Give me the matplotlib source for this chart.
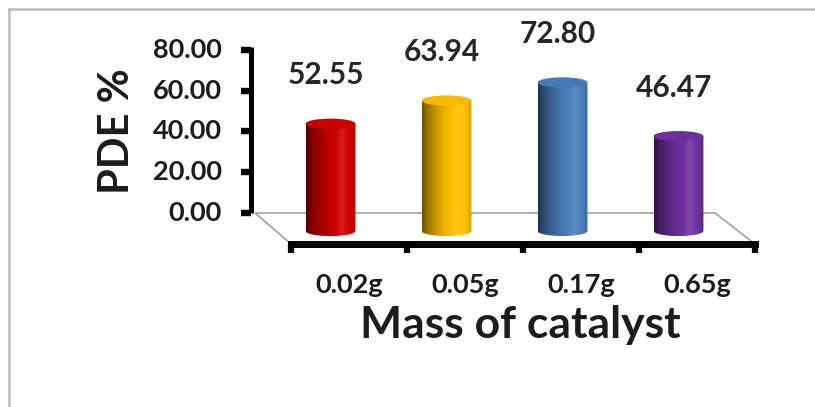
import numpy as np
import matplotlib.pyplot as plt
from matplotlib.patches import Polygon, Ellipse, PathPatch
from matplotlib.path import Path
from matplotlib.colors import to_rgb
from matplotlib.lines import Line2D

# PDE % for each catalyst mass
masses = ['0.02g', '0.05g', '0.17g', '0.65g']
pde = [52.55, 63.94, 72.80, 46.47]
bar_colors = ['#d00000', '#ffc000', '#4a7ebb', '#7030a0']
yticks = [0, 20, 40, 60, 80]

plt.rcParams['font.family'] = ['Lato', 'DejaVu Sans']
ink = '#1c1c1c'

fig = plt.figure(figsize=(8.15, 4.07), dpi=100)
ax = fig.add_axes([0, 0, 1, 1])
ax.set_xlim(-3.009, 4.017)
ax.set_ylim(-95.1, 104.4)
ax.axis('off')

# ---- floor of the 3d plot area ----
depth = -15.2      # front edge of the floor
base = -8.8        # where the cylinders stand
floor = Polygon([(-0.81, 0), (3.155, 0), (3.5, depth), (-0.5, depth)], closed=True,
                facecolor='white', edgecolor='#9a9a9a', lw=1.1, zorder=1)
ax.add_patch(floor)


def shade(color, n=200):
    c = np.array(to_rgb(color))
    t = np.linspace(0, 1, n)
    k = np.interp(t, [0, 0.12, 0.45, 0.72, 0.9, 1.0], [0.42, 0.62, 0.93, 1.06, 0.98, 0.8])
    rgb = np.where(k[:, None] <= 1, c[None, :] * k[:, None],
                   c[None, :] + (1 - c[None, :]) * (k[:, None] - 1) * 2)
    return np.clip(rgb, 0, 1)[None, :, :]


# ---- cylinders ----
w = 0.215   # half width
eh = 2.5    # half height of the end ellipses
for i, (v, col) in enumerate(zip(pde, bar_colors)):
    cx = i - 0.16
    top = base + v
    th = np.linspace(np.pi, 2 * np.pi, 40)
    verts = [(cx - w, top), (cx - w, base)]
    verts += list(zip(cx + w * np.cos(th), base + eh * np.sin(th)))
    verts += [(cx + w, top), (cx - w, top)]
    codes = [Path.MOVETO] + [Path.LINETO] * (len(verts) - 2) + [Path.CLOSEPOLY]
    clip = PathPatch(Path(verts, codes), facecolor='none', edgecolor='none')
    ax.add_patch(clip)
    im = ax.imshow(shade(col), extent=[cx - w, cx + w, base - eh, top],
                   aspect='auto', interpolation='bicubic', zorder=3)
    im.set_clip_path(clip)
    c = np.array(to_rgb(col))
    ax.add_patch(Ellipse((cx, top), 2 * w, 2 * eh, facecolor=c * 0.97,
                         edgecolor='none', zorder=4))
    ax.text(cx - 0.04, v + 15, f'{v:.2f}', ha='center', va='center',
            fontsize=21.5, fontweight='bold', color='#262626', zorder=5)

# ---- value axis ----
ax.plot([-0.845, -0.845], [0, 81.5], color='black', lw=3.6, solid_capstyle='butt', zorder=2)
for t in yticks:
    ax.plot([-0.93, -0.845], [t, t], color='black', lw=4.6, solid_capstyle='butt', zorder=2)
    ax.text(-1.095, t, f'{t:.2f}', ha='right', va='center', fontsize=19.5,
            fontweight='bold', color=ink)

# ---- category axis on the front edge ----
ax.plot([-0.5, 3.5], [depth, depth], color='black', lw=5, solid_capstyle='projecting', zorder=2)
for x in np.arange(-0.5, 4, 1):
    ax.plot([x, x], [depth, -19.8], color='black', lw=4.5, solid_capstyle='butt', zorder=2)
for i, m in enumerate(masses):
    ax.text(i, -35.3, m, ha='center', va='center', fontsize=19.5, fontweight='bold', color=ink)

ax.text(1.474, -61.5, 'Mass of catalyst', ha='center', va='baseline', fontsize=32,
        fontweight='bold', color=ink)
ax.text(-2.0, 40.2, 'PDE %', ha='center', va='center', rotation=90, fontsize=30,
        fontweight='bold', color=ink)

# frame lines
fig.add_artist(Line2D([8.5 / 815, 1], [1 - 8.5 / 407] * 2, transform=fig.transFigure,
                      color='#bdbdbd', lw=1.8))
fig.add_artist(Line2D([8.5 / 815] * 2, [0, 1 - 8.5 / 407], transform=fig.transFigure,
                      color='#bdbdbd', lw=1.8))

fig.savefig('out.png', dpi=100)
